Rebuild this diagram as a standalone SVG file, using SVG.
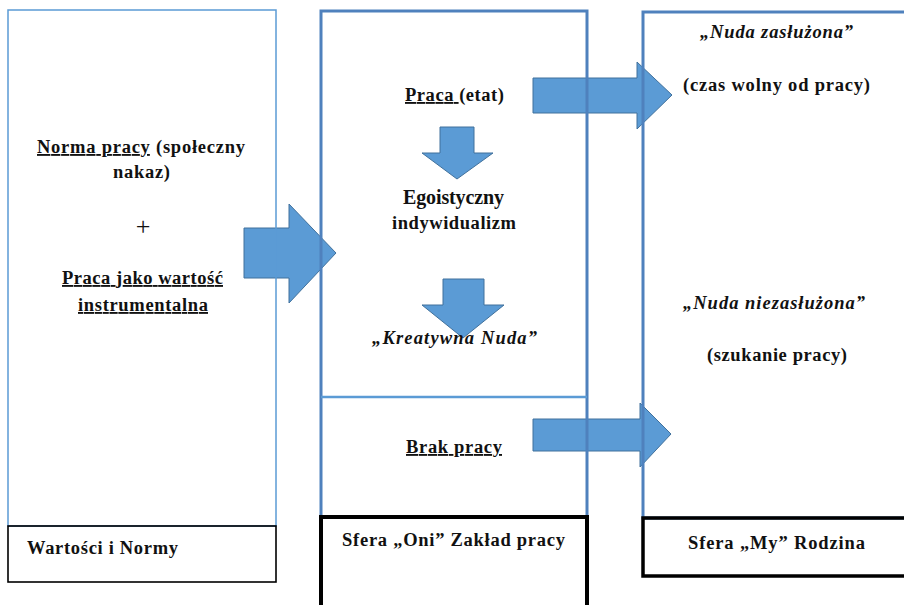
<svg xmlns="http://www.w3.org/2000/svg" width="904" height="605" viewBox="0 0 904 605">
<style>
.t{font-family:"Liberation Serif","Times New Roman",serif;font-weight:bold;font-size:18.5px;fill:#111}
.i{font-style:italic}
.u{text-decoration:underline}
.arr{fill:#5b9bd5;stroke:#41719c;stroke-width:1}
.box1{fill:none;stroke:#5b9bd5;stroke-width:1.5}
.box2{fill:none;stroke:#4f81bd;stroke-width:3}
.lab{fill:none;stroke:#000}
.plus{font-family:"Liberation Serif","Times New Roman",serif;font-size:26px;fill:#111}
</style>
<rect width="904" height="605" fill="#fff"/>
<g id="connectors">
<polygon class="arr" points="244,228 289,228 289,204 336,253 289,303 289,278 244,278"/>
<polygon class="arr" points="533,78 637,78 637,62 672,95 637,129 637,113 533,113"/>
<polygon class="arr" points="440,127 474,127 474,153 493,153 457,179 422,153 440,153"/>
<polygon class="arr" points="443,279 484,279 484,305 504,305 463,338 422,305 443,305"/>
<polygon class="arr" points="533,419 640,419 640,403 671,434 640,467 640,451 533,451"/>
</g>
<g id="node-wartosci">
<rect class="box1" x="8" y="10" width="268" height="516"/>
<rect class="lab" x="8" y="526" width="268" height="56" stroke-width="1.6"/>
<text class="t" x="37" y="153" textLength="208" lengthAdjust="spacing"><tspan class="u">Norma pracy</tspan> (społeczny</text>
<text class="t" x="113" y="178" textLength="57" lengthAdjust="spacing">nakaz)</text>
<text class="plus" x="143" y="235" text-anchor="middle">+</text>
<text class="t u" x="62" y="284" textLength="161" lengthAdjust="spacing">Praca jako wartość</text>
<text class="t u" x="78" y="311" textLength="130" lengthAdjust="spacing">instrumentalna</text>
<text class="t" x="27" y="554" textLength="151" lengthAdjust="spacing">Wartości i Normy</text>
</g>
<g id="node-oni">
<rect class="box2" x="321" y="11" width="266" height="506"/>
<line x1="321" y1="397" x2="587" y2="397" stroke="#5b9bd5" stroke-width="2.5"/>
<rect class="lab" x="321" y="517" width="266" height="92" stroke-width="4"/>
<text class="t" x="405" y="101" textLength="99" lengthAdjust="spacing"><tspan class="u">Praca </tspan>(etat)</text>
<text class="t" x="403" y="204" textLength="101" lengthAdjust="spacing" style="font-size:20px">Egoistyczny</text>
<text class="t" x="392" y="229" textLength="124" lengthAdjust="spacing">indywidualizm</text>
<text class="t i" x="372" y="344" textLength="165" lengthAdjust="spacing">„Kreatywna Nuda”</text>
<text class="t u" x="406" y="453" textLength="96" lengthAdjust="spacing">Brak pracy</text>
<text class="t" x="342" y="546" textLength="223" lengthAdjust="spacing">Sfera „Oni” Zakład pracy</text>
</g>
<g id="node-my">
<rect class="box2" x="643" y="12" width="270" height="506"/>
<rect class="lab" x="643" y="518" width="270" height="58" stroke-width="3.5"/>
<text class="t i" x="700" y="38" textLength="153" lengthAdjust="spacing">„Nuda zasłużona”</text>
<text class="t" x="683" y="91" textLength="187" lengthAdjust="spacing">(czas wolny od pracy)</text>
<text class="t i" x="683" y="309" textLength="182" lengthAdjust="spacing">„Nuda niezasłużona”</text>
<text class="t" x="707" y="361" textLength="140" lengthAdjust="spacing">(szukanie pracy)</text>
<text class="t" x="688" y="549" textLength="177" lengthAdjust="spacing">Sfera „My”  Rodzina</text>
</g>
</svg>
